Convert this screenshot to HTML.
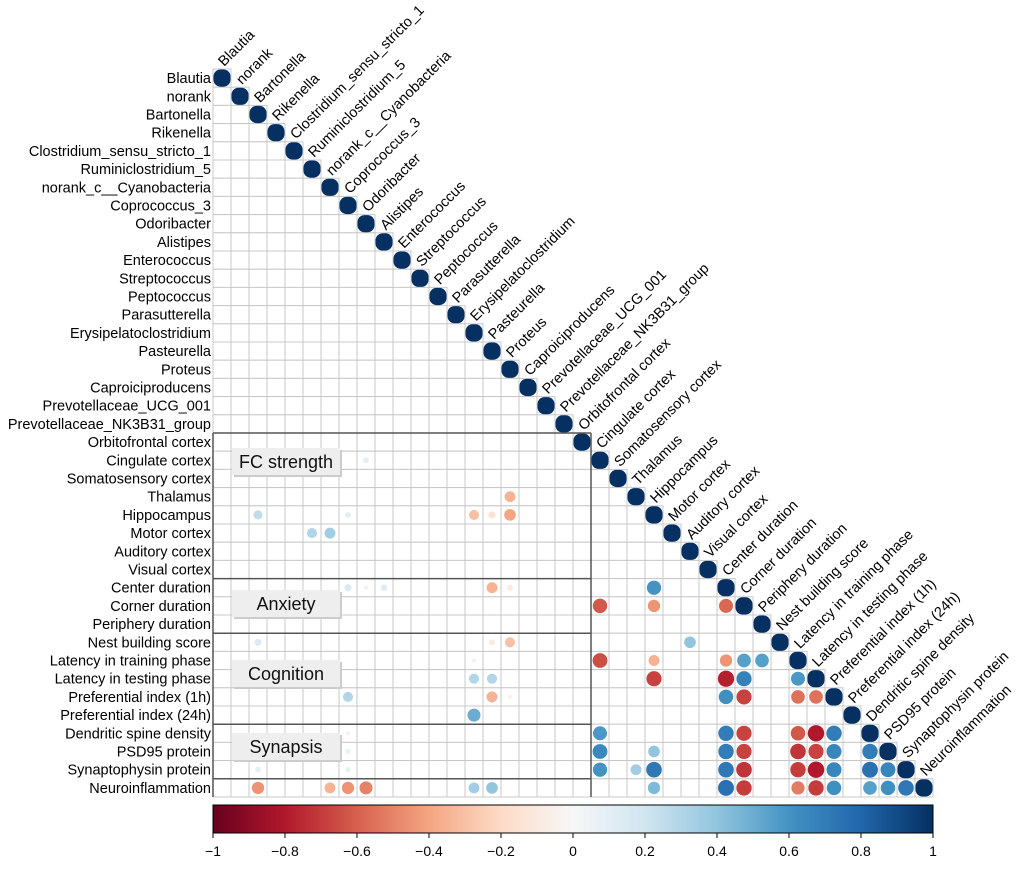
<!DOCTYPE html>
<html><head><meta charset="utf-8"><style>
body{margin:0;background:#fff;}
svg{display:block;font-family:"Liberation Sans",Arial,sans-serif;}
</style></head><body>
<svg id="chart" width="1020" height="880"></svg>
<script>
const labels=["Blautia","norank","Bartonella","Rikenella","Clostridium_sensu_stricto_1","Ruminiclostridium_5","norank_c__Cyanobacteria","Coprococcus_3","Odoribacter","Alistipes","Enterococcus","Streptococcus","Peptococcus","Parasutterella","Erysipelatoclostridium","Pasteurella","Proteus","Caproiciproducens","Prevotellaceae_UCG_001","Prevotellaceae_NK3B31_group","Orbitofrontal cortex","Cingulate cortex","Somatosensory cortex","Thalamus","Hippocampus","Motor cortex","Auditory cortex","Visual cortex","Center duration","Corner duration","Periphery duration","Nest building score","Latency in training phase","Latency in testing phase","Preferential index (1h)","Preferential index (24h)","Dendritic spine density","PSD95 protein","Synaptophysin protein","Neuroinflammation"];
const rowIdx=[21,23,24,24,24,24,24,25,25,28,28,28,28,28,31,31,31,32,33,33,34,34,34,35,36,37,38,38,39,39,39,39,39,39,
28,29,29,29,31,32,32,32,32,32,33,33,33,33,34,34,34,34,36,36,36,36,36,36,37,37,37,37,37,37,37,37,38,38,38,38,38,38,38,38,38,38,39,39,39,39,39,39,39,39,39];
const colIdx=[8,16,2,7,14,15,16,5,6,7,8,9,15,16,2,15,16,14,14,15,7,15,16,14,7,7,2,7,2,6,7,8,14,15,
24,21,24,28,26,21,24,28,29,30,24,28,29,32,28,29,32,33,21,28,29,32,33,34,21,24,28,29,32,33,34,36,21,23,24,28,29,32,33,34,36,37,24,28,29,32,33,34,36,37,38];
const values=[0.1,-0.35,0.25,0.1,-0.3,-0.15,-0.4,0.3,0.35,0.15,0.05,0.12,-0.35,-0.1,0.15,-0.1,-0.3,0.05,0.3,0.3,0.3,-0.35,-0.05,0.5,0.05,0.08,0.1,0.08,-0.45,-0.35,-0.45,-0.5,0.35,0.4,
0.6,-0.62,-0.45,-0.58,0.4,-0.65,-0.35,-0.45,0.55,0.55,-0.68,-0.78,0.68,0.58,0.62,-0.68,-0.55,-0.55,0.58,0.7,-0.68,-0.62,-0.8,0.7,0.65,0.4,0.7,-0.68,-0.72,-0.68,0.66,0.7,0.6,0.35,0.72,0.72,-0.72,-0.7,-0.8,0.66,0.75,0.66,0.45,0.75,-0.7,-0.52,-0.7,0.62,0.55,0.62,0.72];
const tickVals=[-1,-0.8,-0.6,-0.4,-0.2,0,0.2,0.4,0.6,0.8,1];
const tickLabels=["\u22121","\u22120.8","\u22120.6","\u22120.4","\u22120.2","0","0.2","0.4","0.6","0.8","1"];
const groups=[["FC strength",448],["Anxiety",590],["Cognition",660],["Synapsis",733]];

const NS="http://www.w3.org/2000/svg",svg=document.getElementById("chart");
const X0=213,Y0=69,CW=18,CH=18.2,N=labels.length;
const xc=c=>X0+(c+0.5)*CW, yc=r=>Y0+(r+0.5)*CH;
const stops=[[-1,"#67001f"],[-0.8,"#b2182b"],[-0.6,"#d6604d"],[-0.4,"#f4a582"],[-0.2,"#fddbc7"],[0,"#f7f7f7"],[0.2,"#d1e5f0"],[0.4,"#92c5de"],[0.6,"#4393c3"],[0.8,"#2166ac"],[1,"#053061"]];
function hx(h){return [1,3,5].map(i=>parseInt(h.substr(i,2),16));}
function col(v){for(let i=0;i<stops.length-1;i++){if(v<=stops[i+1][0]){const t=(v-stops[i][0])/0.2,a=hx(stops[i][1]),b=hx(stops[i+1][1]);return "rgb("+a.map((x,k)=>Math.round(x+(b[k]-x)*t)).join(",")+")";}}return stops[10][1];}
function mk(tag,attrs,parent){const e=document.createElementNS(NS,tag);for(const k in attrs)e.setAttribute(k,attrs[k]);(parent||svg).appendChild(e);return e;}

const grid=mk("g",{});


for(let r=0;r<N;r++)for(let c=0;c<=r;c++){mk("rect",{x:X0+c*CW,y:Y0+r*CH,width:CW,height:CH,fill:"#fff",stroke:"#c8c8c8","stroke-width":1},grid);}
for(let i=0;i<N;i++){const d=mk("rect",{x:xc(i)-8.5,y:yc(i)-8.6,width:17,height:17.2,rx:7,fill:col(1)});

}
for(let k=0;k<values.length;k++){const v=values[k];const c=mk("circle",{cx:xc(colIdx[k]),cy:yc(rowIdx[k]),r:Math.min(9,9.2*Math.sqrt(Math.abs(v))),fill:col(v)});

}
const gl=mk("g",{stroke:"#555","stroke-width":1.5,fill:"none"});


[20,28,31,36,39].forEach(r=>mk("line",{x1:X0,x2:X0+21*CW,y1:Y0+r*CH,y2:Y0+r*CH},gl));
mk("line",{x1:X0+21*CW,x2:X0+21*CW,y1:Y0+20*CH,y2:Y0+40*CH},gl);
mk("line",{x1:X0,x2:X0,y1:Y0+20*CH,y2:Y0+40*CH},gl);
groups.forEach(g=>{const gr=mk("g",{});


mk("rect",{x:234,y:g[1]+2,width:108,height:27,fill:"#ccc"},gr);
mk("rect",{x:232,y:g[1],width:108,height:27,fill:"#eeeeee"},gr);
const t=mk("text",{x:286,y:g[1]+20,"text-anchor":"middle","font-size":18,fill:"#111"},gr);t.textContent=g[0];});
for(let i=0;i<N;i++){const t=mk("text",{x:211,y:yc(i)+5,"text-anchor":"end","font-size":14.5,fill:"#000"});t.textContent=labels[i];


const tx=xc(i)+2,ty=Y0+i*CH-2;
const u=mk("text",{x:tx,y:ty,"font-size":14.5,fill:"#000",transform:`rotate(-45 ${tx} ${ty})`});u.textContent=labels[i];

}
const defs=mk("defs",{});const lg=mk("linearGradient",{id:"cb",x1:0,x2:1,y1:0,y2:0},defs);
stops.forEach(s=>mk("stop",{offset:(s[0]+1)/2,"stop-color":s[1]},lg));
const CB0=213,CB1=933;
const cb=mk("rect",{x:CB0,y:805,width:CB1-CB0,height:28,fill:"url(#cb)",stroke:"#000","stroke-width":1});


tickVals.forEach((v,i)=>{const x=CB0+(v+1)/2*(CB1-CB0);mk("line",{x1:x,x2:x,y1:833,y2:838,stroke:"#000"});
const t=mk("text",{x:x,y:856,"text-anchor":"middle","font-size":14,fill:"#000"});t.textContent=tickLabels[i];

});
</script>
</body></html>
